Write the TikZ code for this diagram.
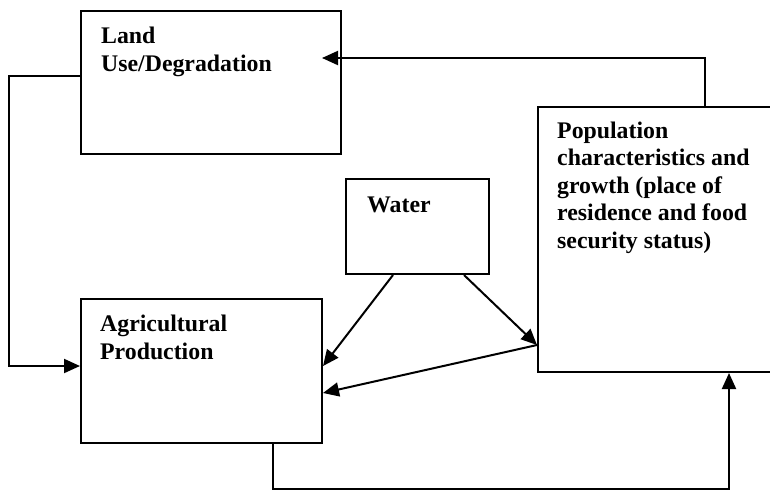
\documentclass[tikz,border=0pt]{standalone}
\usepackage{fontspec}
\setmainfont{Liberation Serif}
\usetikzlibrary{arrows.meta}
\begin{document}
\begin{tikzpicture}[x=1pt,y=-1pt,
  box/.style={draw, line width=2pt, rectangle, anchor=north west, inner sep=0pt},
  lbl/.style={anchor=base west, align=left, inner sep=0pt, font=\bfseries\fontsize{23.8}{27.5}\selectfont},
  arr/.style={line width=2pt, -{Triangle[length=16pt,width=14pt]}}]
\useasboundingbox (0,0) rectangle (770,491);
\node[box, minimum width=260pt, minimum height=143pt] (land) at (80,10) {};
\node[box, minimum width=243pt, minimum height=265pt] (pop) at (537,106) {};
\node[box, minimum width=143pt, minimum height=95pt] (water) at (345,178) {};
\node[box, minimum width=241pt, minimum height=144pt] (agri) at (80,298) {};
\node[lbl] (landt) at (101,71) {Land\\Use/Degradation};
\node[lbl] (popt) at (557,248) {Population\\characteristics and\\growth (place of\\residence and food\\security status)};
\node[lbl] (watert) at (367,212) {Water};
\node[lbl] (agrit) at (100,359) {Agricultural\\Production};
\coordinate (tA) at (705,58);
\coordinate (tipA) at (322,58);
\coordinate (lA) at (9,76);
\coordinate (lB) at (9,366);
\coordinate (bA) at (273,489);
\coordinate (bB) at (729,489);
\draw[arr] (tA |- pop.north) -- (tA) -- (tipA);
\draw[arr] (land.west |- lA) -- (lA) -- (lB) -- (agri.west |- lB);
\draw[arr] (393,0 |- water.south) -- (agri.east |- 0,366);
\draw[arr] (464,0 |- water.south) -- (pop.west |- 0,345);
\draw[arr] (pop.west |- 0,345) -- (agri.east |- 0,393);
\draw[arr] (bA |- agri.south) -- (bA) -- (bB) -- (bB |- pop.south);
\end{tikzpicture}
\end{document}
